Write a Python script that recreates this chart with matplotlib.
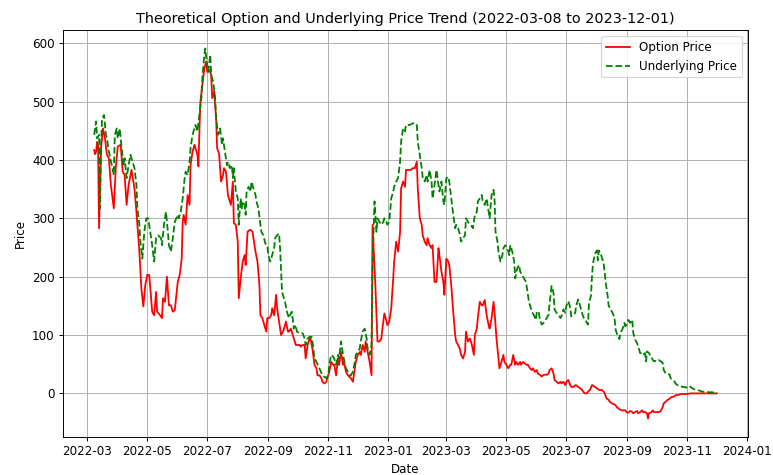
import matplotlib
matplotlib.use("Agg")
import matplotlib.pyplot as plt
import matplotlib.dates as mdates
import pandas as pd

base_date = "2022-03-01"

opt_days = [7, 8, 9, 10, 11, 12, 14, 16, 18, 20, 22, 24, 27, 29, 31, 34, 36, 38, 40, 42, 45, 48, 50, 53, 55, 57, 59, 61, 63, 66, 68, 70, 71, 74,
            76, 77, 79, 81, 83, 85, 87, 89, 92, 94, 96, 97, 98, 100, 102, 104, 105, 107, 109, 110, 112, 113, 114, 115, 117, 119, 121, 122, 124, 126, 127, 129, 131, 132, 134, 136, 138, 139, 141, 143, 144, 146, 148, 149,
            151, 153, 154, 156, 158, 160, 161, 163, 165, 166, 168, 170, 171, 173, 175, 176, 178, 180, 182, 183, 185, 187, 188, 190, 192, 193, 195, 197, 199, 200, 202, 204, 205, 207, 209, 210, 212, 214, 216, 217, 219, 221, 222, 224, 226, 227, 229,
            231, 233, 234, 236, 238, 239, 241, 243, 244, 246, 248, 250, 251, 253, 255, 256, 258, 260, 261, 263, 265, 266, 268, 270, 272, 273, 275, 277, 278, 280, 282, 283, 285, 287, 289, 290, 293, 295, 297, 299, 300, 302, 304,
            305, 307, 309, 311, 312, 314, 316, 318, 319, 321, 323, 324, 326, 328, 329, 331, 333, 335, 336, 338, 340, 341, 343, 345, 346, 348, 350, 351, 353, 355, 357, 358, 360, 362, 363, 365, 367, 368, 370, 372, 374, 375, 377, 379,
            380, 382, 384, 385, 387, 389, 391, 393, 394, 396, 397, 399, 401, 402, 404, 406, 408, 409, 411, 413, 414, 416, 418, 419, 421, 423, 424, 426, 428, 430, 431, 433, 435, 436, 438, 440, 441, 443, 445, 447, 448, 450, 452, 453,
            455, 457, 458, 460, 462, 464, 465, 467, 469, 470, 472, 474, 475, 477, 479, 481, 482, 484, 486, 487, 489, 491, 492, 494, 496, 497, 499, 501, 503, 504, 506, 508, 509, 511, 513, 514, 516, 518, 520, 521, 523, 525, 526, 528, 530, 531, 533, 535, 537, 538, 540, 542, 543, 545,
            547, 548, 550, 552, 554, 555, 557, 559, 560, 562, 564, 565, 567, 569, 570, 571, 573, 575, 576, 578, 580, 581, 583, 585, 586, 588, 590, 592, 593, 595, 597, 598, 600, 602, 603, 606, 610, 613, 616, 620, 623, 627, 630, 633, 637, 640]
opt_vals = [417, 410, 414, 431, 425, 283, 420, 454, 437, 409, 403, 357, 317, 386, 423, 426, 380, 374, 323, 357, 383, 351, 311, 243, 180, 149, 186, 203, 203, 140, 134, 174, 140, 134,
            129, 163, 157, 200, 151, 151, 140, 143, 191, 203, 231, 294, 306, 289, 340, 323, 391, 414, 426, 420, 409, 389, 449, 500, 529, 557, 569, 551, 554, 546, 506, 517, 471, 420, 411, 363, 374, 386, 380, 340, 334, 323, 363, 292,
            289, 260, 163, 197, 226, 237, 220, 277, 280, 280, 277, 254, 243, 226, 186, 134, 129, 117, 106, 129, 129, 134, 146, 134, 169, 146, 123, 100, 106, 111, 123, 106, 106, 111, 100, 94, 83, 83, 83, 80, 83, 83, 60, 83, 94, 94, 75,
            49, 43, 31, 31, 26, 20, 17, 20, 26, 37, 54, 49, 49, 31, 60, 49, 71, 49, 54, 37, 31, 29, 26, 20, 43, 54, 66, 71, 66, 83, 71, 89, 71, 54, 31, 289, 180, 89, 89, 94, 111, 137, 125,
            117, 123, 146, 197, 226, 260, 243, 277, 351, 363, 354, 383, 383, 383, 383, 386, 386, 397, 351, 300, 289, 271, 260, 254, 266, 254, 249, 254, 191, 191, 249, 237, 209, 191, 169, 231, 226, 220, 186, 140, 100, 89, 83, 75,
            66, 60, 71, 106, 89, 94, 83, 66, 100, 111, 129, 157, 151, 151, 160, 134, 117, 111, 129, 157, 140, 94, 60, 43, 54, 66, 54, 49, 43, 49, 49, 66, 49, 54, 49, 54, 49, 54, 51, 49, 49, 43, 40, 43,
            37, 40, 34, 32, 29, 32, 32, 32, 34, 40, 43, 34, 23, 20, 17, 20, 17, 20, 14, 20, 23, 14, 11, 11, 14, 14, 11, 9, 6, 3, 0, 0, 3, 6, 14, 14, 11, 9, 6, 6, 6, 3, 0, -9, -11, -14, -17, -18, -20, -23, -26, -28, -29, -29,
            -29, -32, -33, -30, -32, -34, -32, -30, -34, -32, -29, -32, -32, -34, -43, -34, -33, -29, -32, -32, -32, -32, -30, -23, -17, -14, -11, -9, -7, -6, -5, -3, -3, -2, -1, -1, -1, 0, 0, 0, 0, 0, 0, 0, 0, 0]

und_days = [7, 8, 9, 10, 12, 13, 14, 15, 17, 19, 20, 22, 25, 27, 28, 30, 31, 33, 35, 37, 38, 40, 42, 44, 45, 48, 50, 51, 53, 54, 56, 58, 60, 62, 64, 66, 68, 70, 72, 75,
            76, 78, 80, 82, 83, 85, 87, 89, 92, 93, 95, 97, 99, 100, 102, 104, 105, 107, 109, 110, 112, 114, 116, 117, 119, 120, 121, 123, 125, 126, 128, 130, 131, 133, 135, 137, 138, 140, 142, 143, 145, 147, 148,
            149, 151, 153, 154, 156, 157, 158, 160, 161, 162, 164, 166, 167, 169, 171, 172, 174, 176, 177, 179, 181, 183, 184, 186, 188, 190, 191, 193, 195, 196, 198, 200, 201, 203, 205, 206, 208, 210, 212, 213, 216, 217, 219, 221, 222, 224, 226, 228, 229,
            231, 233, 236, 239, 243, 245, 246, 248, 250, 251, 253, 255, 256, 258, 260, 262, 263, 265, 267, 268, 270, 272, 273, 275, 277, 278, 280, 282, 284, 285, 287, 289, 290, 292, 294, 295, 297, 299, 301, 302, 304,
            305, 307, 309, 311, 312, 314, 316, 318, 319, 321, 323, 324, 328, 331, 333, 335, 336, 338, 340, 341, 343, 345, 346, 348, 350, 351, 353, 355, 357, 358, 360, 362, 363, 365, 367, 368, 370, 372, 374, 375, 377, 379, 380, 382,
            384, 385, 387, 389, 391, 392, 394, 396, 397, 399, 401, 402, 404, 406, 408, 409, 411, 413, 414, 415, 417, 418, 420, 422, 423, 425, 427, 429, 430, 432, 434, 435, 437, 439, 440, 442, 444, 446, 447, 449, 451, 452, 454, 456, 457, 459,
            460, 462, 464, 465, 467, 469, 470, 472, 474, 475, 477, 479, 481, 482, 484, 486, 487, 489, 491, 492, 494, 496, 497, 499, 501, 503, 504, 506, 508, 509, 510, 512, 513, 514, 516, 518, 519, 520, 522, 524, 525, 527, 529, 530, 532, 534, 536, 537, 539, 541, 542, 544, 546,
            547, 548, 550, 552, 554, 555, 557, 559, 560, 562, 564, 565, 567, 568, 569, 571, 573, 575, 576, 578, 580, 581, 583, 585, 586, 588, 590, 592, 593, 595, 597, 598, 600, 602, 603, 605, 607, 609, 610, 612, 614, 615, 617, 619, 620, 622, 625, 628, 632, 635, 638, 640]
und_vals = [443, 454, 466, 437, 443, 317, 420, 471, 477, 443, 437, 414, 391, 374, 443, 454, 437, 454, 420, 391, 403, 369, 391, 409, 403, 386, 357, 317, 289, 260, 231, 277, 300, 300, 277, 254, 226, 266, 271, 266,
            254, 289, 311, 277, 254, 243, 266, 294, 306, 300, 311, 334, 369, 380, 374, 397, 420, 443, 454, 460, 449, 477, 506, 540, 580, 591, 574, 551, 580, 546, 534, 506, 471, 443, 454, 426, 437, 414, 391, 397, 386, 391, 369,
            386, 346, 334, 289, 334, 317, 329, 323, 306, 346, 354, 346, 363, 351, 340, 329, 317, 289, 277, 271, 257, 254, 237, 226, 237, 249, 266, 271, 274, 249, 174, 163, 157, 140, 129, 134, 140, 111, 117, 106, 103, 103, 103, 94, 83, 94, 97, 97, 88,
            60, 54, 43, 31, 26, 31, 49, 66, 63, 60, 49, 66, 60, 89, 66, 49, 43, 37, 31, 31, 37, 54, 66, 71, 77, 89, 106, 111, 94, 77, 66, 83, 220, 329, 277, 300, 294, 289, 294, 300, 294,
            289, 294, 334, 346, 354, 363, 369, 397, 431, 454, 449, 460, 460, 463, 463, 460, 431, 409, 386, 369, 363, 374, 363, 383, 363, 334, 357, 383, 357, 346, 363, 329, 323, 369, 371, 363, 334, 306, 283, 289, 283, 271, 260, 266,
            271, 300, 294, 289, 286, 283, 306, 311, 329, 334, 340, 329, 323, 334, 311, 300, 340, 349, 334, 277, 260, 243, 226, 237, 249, 254, 249, 237, 254, 243, 226, 197, 214, 220, 209, 203, 197, 191, 180, 157, 146, 140, 134, 126, 140, 140,
            126, 118, 121, 124, 129, 135, 155, 184, 172, 144, 138, 135, 129, 132, 144, 138, 150, 158, 147, 132, 135, 138, 150, 161, 150, 138, 132, 126, 121, 118, 155, 167, 199, 222, 239, 245, 228, 245, 239, 228, 222, 190, 167, 150, 144, 138, 129, 110, 99, 93, 104, 110, 121,
            115, 118, 126, 121, 126, 104, 92, 86, 81, 69, 69, 66, 69, 55, 72, 69, 63, 57, 55, 56, 55, 57, 55, 52, 40, 34, 34, 32, 26, 23, 20, 17, 14, 13, 13, 11, 11, 10, 11, 13, 10, 9, 7, 6, 6, 5, 3, 3, 2, 2, 1, 1]

start = pd.Timestamp(base_date)
opt_dates = start + pd.to_timedelta(opt_days, unit="D")
und_dates = start + pd.to_timedelta(und_days, unit="D")

DPI = 85.9
fig = plt.figure(figsize=(773 / DPI, 475 / DPI), dpi=DPI)
ax = fig.add_axes([63 / 773, 1 - 437 / 475, (748 - 63) / 773, (437 - 30) / 475])
ax.plot(opt_dates, opt_vals, color="red", linestyle="-", label="Option Price")
ax.plot(und_dates, und_vals, color="green", linestyle="--", label="Underlying Price")
ax.set_title("Theoretical Option and Underlying Price Trend (2022-03-08 to 2023-12-01)")
ax.set_xlabel("Date")
ax.set_ylabel("Price")
ax.xaxis.set_major_locator(mdates.MonthLocator(bymonth=[1, 3, 5, 7, 9, 11]))
ax.xaxis.set_major_formatter(mdates.DateFormatter("%Y-%m"))
ax.grid(True)
ax.legend(loc="upper right")
fig.savefig("out.png", dpi=DPI)
